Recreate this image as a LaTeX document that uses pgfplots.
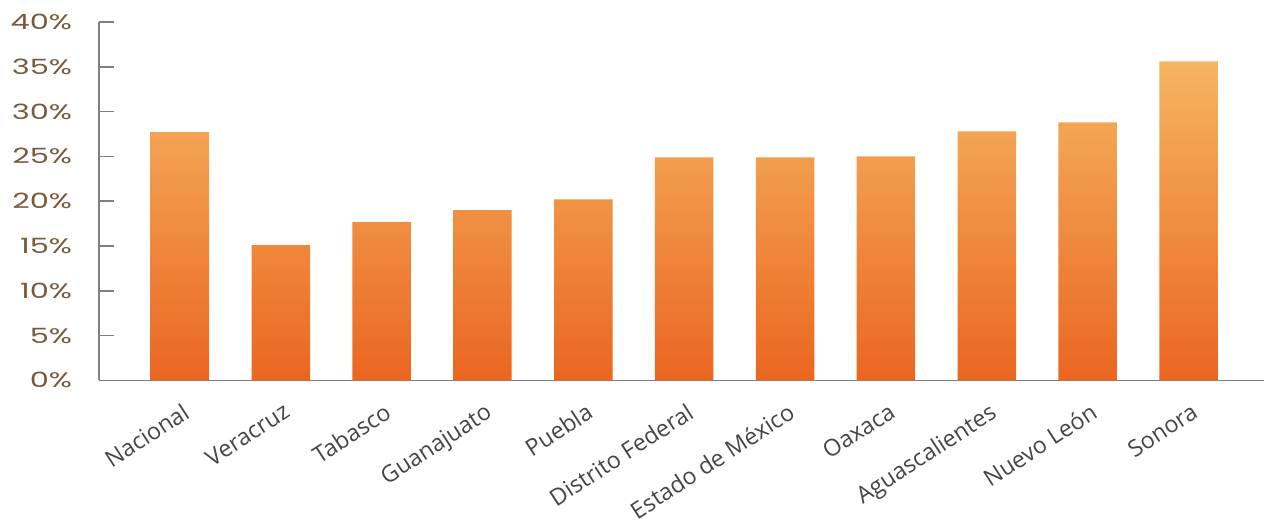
\documentclass[border=0pt]{standalone}
\usepackage{fontspec}
\usepackage{pgfplots}
\pgfplotsset{compat=1.18}
\setmainfont{Open Sans}
\newfontfamily\ytickfont[FakeStretch=1.45]{Poppins}
\definecolor{tickbrown}{HTML}{7A5A3C}
\definecolor{labelgray}{HTML}{454545}
\definecolor{axisgray}{HTML}{7F7F7F}
\definecolor{bartop}{HTML}{F5B562}
\definecolor{barmid}{HTML}{F2A24F}
\definecolor{barbot}{HTML}{EB6620}
\begin{document}
\begin{tikzpicture}
\begin{axis}[
  name=main,
  width=582pt, height=179pt, scale only axis,
  xmin=-0.8, xmax=10.75, ymin=0, ymax=40,
  axis lines=left,
  axis line style={-, draw=axisgray, line width=0.8pt},
  ytick={0,5,...,40},
  yticklabels={0\%,5\%,10\%,15\%,20\%,25\%,30\%,35\%,40\%},
  yticklabel style={font=\ytickfont\fontsize{10.5}{12}\selectfont, text=tickbrown, xshift=-10pt},
  tick align=inside,
  ytick style={draw=axisgray, line width=0.8pt},
  major tick length=7.5pt,
  xtick={0,...,10},
  xticklabels={Nacional,Veracruz,Tabasco,Guanajuato,Puebla,Distrito Federal,Estado de México,Oaxaca,Aguascalientes,Nuevo León,Sonora},
  xtick style={draw=none},
  xticklabel style={rotate=33, anchor=north east, inner sep=1pt, yshift=-2pt, font=\fontsize{11.6}{14}\selectfont, text=labelgray},
  ybar, bar width=0.58,
]
\addplot[ybar, draw=none, top color=bartop, middle color=barmid, bottom color=barbot] coordinates {
(0,27.7) (1,15.1) (2,17.65) (3,19.0) (4,20.2) (5,24.9) (6,24.9) (7,25.0) (8,27.8) (9,28.8) (10,35.6)
};
\end{axis}
\path ([yshift=11pt]main.north west);
\path (current bounding box.west) ++(-2pt,0);
\end{tikzpicture}
\end{document}
